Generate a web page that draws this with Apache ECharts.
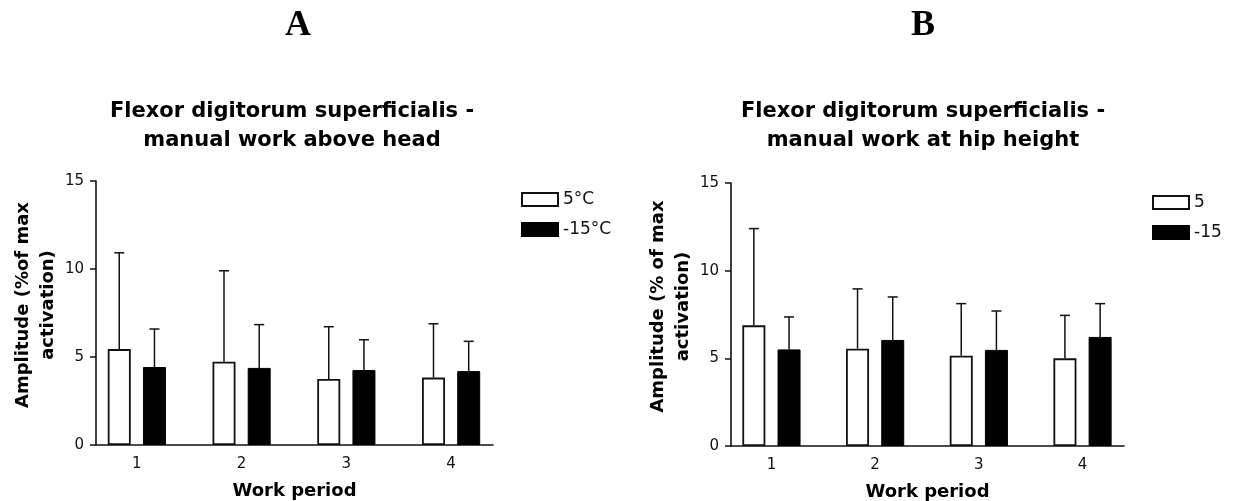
<!DOCTYPE html>
<html>
<head>
<meta charset="utf-8">
<script src="https://cdn.jsdelivr.net/npm/echarts@6/dist/echarts.min.js"></script>
<style>
html, body { margin: 0; padding: 0; background: #fff; }
#chart { width: 1235px; height: 501px; }
</style>
</head>
<body>
<div id="chart"></div>
<script>
// work periods on the x axis
var periods = [1, 2, 3, 4];
var periodLabels = ['1', '2', '3', '4'];
var yTicks = [0, 5, 10, 15];

// panel A - above head
var aWarm = [5.45, 4.73, 3.75, 3.83];
var aWarmSd = [5.47, 5.17, 2.97, 3.06];
var aCold = [4.43, 4.38, 4.26, 4.20];
var aColdSd = [2.16, 2.46, 1.72, 1.69];

// panel B - hip height
var bWarm = [6.88, 5.55, 5.15, 5.00];
var bWarmSd = [5.52, 3.41, 2.97, 2.45];
var bCold = [5.51, 6.05, 5.48, 6.22];
var bColdSd = [1.85, 2.45, 2.22, 1.90];

var FONT = 'DejaVu Sans, Liberation Sans, Arial, sans-serif';
var SERIF = 'Liberation Serif, Times New Roman, serif';
var BAR_W = 23;
var BAR_OFF = 17.6; // half distance between the two bar centres

function pairs(vals) {
	return periods.map(function(p, i) { return [p, vals[i]]; });
}

function errPairs(vals, sds) {
	return periods.map(function(p, i) { return [p, vals[i], vals[i] + sds[i]]; });
}

function errSeries(idx, vals, sds, shift) {
	return {
		type: 'custom',
		xAxisIndex: idx,
		yAxisIndex: idx,
		z: 5,
		silent: true,
		data: errPairs(vals, sds),
		renderItem: function(params, api) {
			var lo = api.coord([api.value(0), api.value(1)]);
			var hi = api.coord([api.value(0), api.value(2)]);
			var x = lo[0] + shift;
			var style = { stroke: '#111', lineWidth: 1.5 };
			return {
				type: 'group',
				children: [
					{ type: 'line', shape: { x1: x, y1: lo[1], x2: x, y2: hi[1] }, style: style },
					{ type: 'line', shape: { x1: x - 5, y1: hi[1], x2: x + 5, y2: hi[1] }, style: style }
				]
			};
		}
	};
}

function xAxis(idx) {
	return {
		type: 'value',
		gridIndex: idx,
		min: 0.61,
		max: 4.4,
		splitLine: { show: false },
		axisTick: { show: false },
		axisLine: { show: true, lineStyle: { color: '#111', width: 1.6 } },
		axisLabel: {
			customValues: periods,
			formatter: function(v) { return periodLabels[periods.indexOf(v)] || ''; },
			color: '#111', fontSize: 15, fontFamily: FONT, margin: 12
		},
		name: 'Work period',
		nameLocation: 'middle',
		nameGap: 37,
		nameTextStyle: { color: '#000', fontSize: 18, fontWeight: 'bold', fontFamily: FONT }
	};
}

function yAxis(idx, name) {
	return {
		type: 'value',
		gridIndex: idx,
		min: yTicks[0],
		max: yTicks[yTicks.length - 1],
		interval: 5,
		splitLine: { show: false },
		axisLine: { show: true, lineStyle: { color: '#111', width: 1.6 } },
		axisTick: { show: true, length: 6, lineStyle: { color: '#111', width: 1.5 } },
		axisLabel: { color: '#111', fontSize: 15, fontFamily: FONT, margin: 12 },
		name: name,
		nameLocation: 'middle',
		nameGap: 34,
		nameTextStyle: { color: '#000', fontSize: 18, fontWeight: 'bold', fontFamily: FONT, lineHeight: 25,
			padding: [0, 0, 0, 16] }
	};
}

function legend(names, left, top) {
	return {
		orient: 'vertical',
		left: left,
		top: top,
		itemWidth: 36,
		itemHeight: 13,
		itemGap: 13,
		icon: 'rect',
		selectedMode: false,
		textStyle: { color: '#111', fontSize: 17, fontFamily: FONT, lineHeight: 13 },
		data: names
	};
}

var chart = echarts.init(document.getElementById('chart'));

var option = {
	animation: false,
	backgroundColor: '#fff',
	title: [
		{ text: 'A', left: 293, top: 3, textAlign: 'center',
			textStyle: { fontFamily: SERIF, fontSize: 36, fontWeight: 'bold', color: '#000' } },
		{ text: 'B', left: 918, top: 3, textAlign: 'center',
			textStyle: { fontFamily: SERIF, fontSize: 36, fontWeight: 'bold', color: '#000' } },
		{ text: 'Flexor digitorum superficialis -\nmanual work above head', left: 287, top: 92, textAlign: 'center',
			textStyle: { fontFamily: FONT, fontSize: 21, fontWeight: 'bold', color: '#000', lineHeight: 29 } },
		{ text: 'Flexor digitorum superficialis -\nmanual work at hip height', left: 918, top: 92, textAlign: 'center',
			textStyle: { fontFamily: FONT, fontSize: 21, fontWeight: 'bold', color: '#000', lineHeight: 29 } }
	],
	legend: [
		legend(['5°C', '-15°C'], 516, 186),
		legend(['5', '-15'], 1147, 189)
	],
	grid: [
		{ left: 96, top: 181, width: 397, height: 264, outerBoundsMode: 'none' },
		{ left: 731, top: 183, width: 393, height: 263, outerBoundsMode: 'none' }
	],
	xAxis: [xAxis(0), xAxis(1)],
	yAxis: [yAxis(0, 'Amplitude (%of max\nactivation)'), yAxis(1, 'Amplitude (% of max\nactivation)')],
	series: [
		{ name: '5°C', type: 'bar', xAxisIndex: 0, yAxisIndex: 0, barWidth: BAR_W, barGap: '53%',
			itemStyle: { color: '#fff', borderColor: '#111', borderWidth: 1.8 }, data: pairs(aWarm) },
		{ name: '-15°C', type: 'bar', xAxisIndex: 0, yAxisIndex: 0, barWidth: BAR_W, barGap: '53%',
			itemStyle: { color: '#000', borderColor: '#000', borderWidth: 1 }, data: pairs(aCold) },
		{ name: '5', type: 'bar', xAxisIndex: 1, yAxisIndex: 1, barWidth: BAR_W, barGap: '53%',
			itemStyle: { color: '#fff', borderColor: '#111', borderWidth: 1.8 }, data: pairs(bWarm) },
		{ name: '-15', type: 'bar', xAxisIndex: 1, yAxisIndex: 1, barWidth: BAR_W, barGap: '53%',
			itemStyle: { color: '#000', borderColor: '#000', borderWidth: 1 }, data: pairs(bCold) },
		errSeries(0, aWarm, aWarmSd, -BAR_OFF),
		errSeries(0, aCold, aColdSd, BAR_OFF),
		errSeries(1, bWarm, bWarmSd, -BAR_OFF),
		errSeries(1, bCold, bColdSd, BAR_OFF)
	]
};

chart.setOption(option);
</script>
</body>
</html>
